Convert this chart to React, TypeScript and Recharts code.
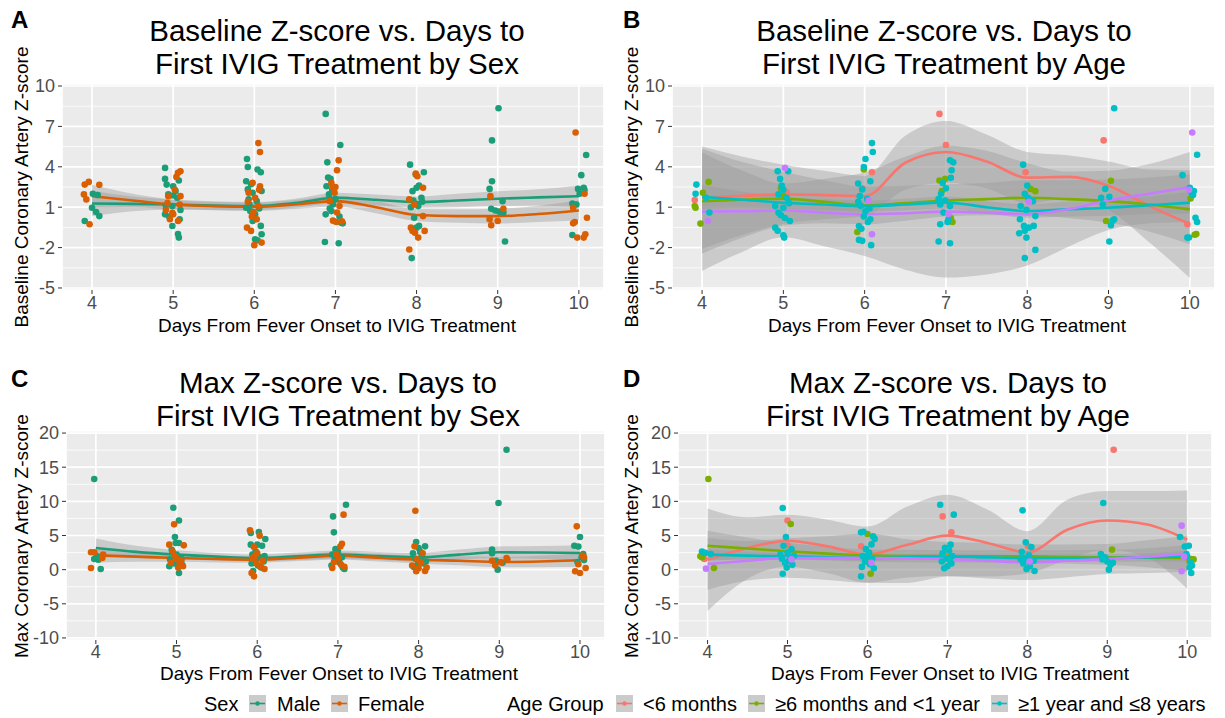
import React from "react";
import { Area, CartesianGrid, ComposedChart, Line, Scatter, XAxis, YAxis } from "recharts";

const FONT = '"Liberation Sans", Arial, Helvetica, sans-serif';

// axes
const dayTicks = [4, 5, 6, 7, 8, 9, 10];
const smoothX = [4, 4.5, 5, 5.5, 6, 6.5, 7, 7.5, 8, 8.5, 9, 9.5, 10];
const baselineTicks = [-5, -2, 1, 4, 7, 10];
const baselineMinor = [-3.5, -0.5, 2.5, 5.5, 8.5];
const maxTicks = [-10, -5, 0, 5, 10, 15, 20];
const maxMinor = [-7.5, -2.5, 2.5, 7.5, 12.5, 17.5];

const sexNames = ["Male", "Female"];
const sexColors = ["#1B9E77", "#D95F02"];
const ageNames = ["<6 months", "≥6 months and <1 year", "≥1 year and ≤8 years", ">8 years"];
const ageColors = ["#F8766D", "#7CAE00", "#00BFC4", "#C77CFF"];

type Pt = [number, number];

// ---- panel A: baseline z-score by sex (jittered points) ----
const aMale: Pt[] = [
  [4.01, 2.0], [4.0, 0.96], [4.05, 0.64], [4.09, 0.34], [3.91, -0.02], [4.07, 1.9],
  [4.9, 3.92], [4.9, 3.1], [4.92, 2.68], [5.0, 2.56], [5.07, 2.98], [4.94, 1.95], [5.0, 1.87], [5.05, 1.7],
  [4.91, 1.13], [4.99, 1.08], [5.09, 0.79], [4.9, 0.47], [4.95, 0.3], [4.99, -0.4], [5.08, 0.1], [5.06, -1.0],
  [5.07, -1.26], [5.03, 2.2],
  [5.91, 4.58], [5.92, 3.99], [6.04, 3.8], [6.08, 3.6], [5.9, 2.93], [5.96, 2.7], [5.92, 2.32], [5.98, 2.07],
  [6.09, 2.2], [5.93, 1.58], [6.03, 1.45], [5.9, 0.96], [5.95, 0.71], [6.01, 0.47], [5.98, -0.02], [6.08, -0.39],
  [6.09, -1.01], [6.01, -1.38], [6.04, -1.45], [5.94, 1.2], [6.06, 0.9],
  [6.88, 7.93], [7.06, 5.62], [6.9, 4.33], [6.91, 3.2], [6.94, 3.1], [6.89, 2.56], [6.96, 2.3], [6.92, 1.95],
  [7.0, 1.6], [6.97, 1.2], [6.95, 0.71], [6.88, 0.47], [7.05, 0.3], [7.07, -0.15], [7.09, -0.2], [6.87, -1.58],
  [7.04, -1.68], [6.93, 0.9],
  [7.92, 4.16], [8.09, 3.6], [7.99, 3.42], [8.0, 2.44], [8.03, 2.61], [7.95, 2.19], [8.06, 1.7], [7.96, 1.5],
  [8.02, 1.08], [7.93, 1.0], [7.97, 0.22], [8.03, -0.39], [8.0, -0.52], [7.94, -2.78], [8.07, 1.4],
  [9.01, 8.35], [8.93, 5.96], [8.93, 2.93], [8.9, 2.36], [8.92, 0.89], [8.97, 0.76], [9.02, 0.67], [9.06, 1.45],
  [9.07, 0.6], [9.09, -1.55],
  [10.09, 4.88], [10.03, 3.38], [9.99, 2.36], [10.06, 2.44], [10.07, 2.27], [10.01, 2.0], [9.92, 1.28],
  [9.97, 1.2], [9.92, -1.06],
];
const aFemale: Pt[] = [
  [3.91, 2.68], [3.96, 2.88], [4.09, 2.66], [3.9, 1.95], [3.93, 1.58], [3.97, -0.27],
  [5.06, 3.55], [5.09, 3.67], [5.04, 3.25], [4.94, 1.82], [5.09, 1.82], [5.02, 2.3], [4.91, 0.79], [4.99, 0.59],
  [5.0, 0.47], [4.96, 0.1], [5.06, -0.02], [5.08, 1.2], [4.93, 1.3],
  [6.05, 5.76], [6.07, 5.1], [6.07, 2.56], [5.98, 2.81], [5.93, 2.07], [6.01, 1.7], [6.05, 1.08], [5.92, 1.4],
  [5.99, 0.64], [5.91, -0.52], [5.96, -0.76], [6.0, -1.82], [6.09, -1.63], [6.03, 0.1], [5.97, 0.3], [6.06, 2.3],
  [7.04, 4.48], [7.02, 3.74], [6.97, 2.44], [6.99, 2.07], [7.0, 2.5], [6.93, 1.45], [7.05, 1.08], [7.02, 0.6],
  [6.97, 0.0], [7.01, -0.1], [7.08, -0.05], [6.95, 2.8],
  [7.99, 3.5], [8.01, 3.3], [8.08, 2.44], [7.91, 1.58], [7.97, 1.2], [8.08, 0.34], [7.93, -0.52], [7.95, -0.76],
  [7.98, -0.9], [8.02, -1.26], [8.1, -0.76], [7.91, -2.14],
  [8.91, 1.82], [9.07, 0.89], [8.9, 0.1], [8.92, -0.34], [9.0, -0.02],
  [9.96, 6.55], [10.07, 2.0], [10.1, 0.22], [9.93, -0.2], [9.98, -1.26], [10.08, -1.01], [10.06, -1.26],
  [9.93, 0.96], [9.95, -0.1],
];
const aMaleFit = [1.28, 1.25, 1.2, 1.12, 1.08, 1.3, 1.7, 1.55, 1.38, 1.5, 1.63, 1.73, 1.82];
const aMaleSe = [0.95, 0.55, 0.38, 0.32, 0.3, 0.33, 0.38, 0.4, 0.42, 0.5, 0.55, 0.6, 0.8];
const aFemaleFit = [1.82, 1.5, 1.2, 1.08, 1.03, 1.2, 1.45, 1.0, 0.42, 0.34, 0.34, 0.5, 0.76];
const aFemaleSe = [0.85, 0.5, 0.36, 0.3, 0.3, 0.33, 0.4, 0.45, 0.45, 0.5, 0.55, 0.6, 0.75];

// ---- panel B: baseline z-score by age group ----
const bAge1: Pt[] = [
  [3.91, 1.53], [6.09, 3.6], [5.97, 2.4], [6.92, 7.93], [7.0, 5.62], [7.98, 3.6], [8.94, 5.96], [9.97, -0.27],
  [5.04, 2.1],
];
const bAge2: Pt[] = [
  [3.91, 1.08], [3.92, 0.96], [4.08, 2.88], [3.98, -0.22], [4.01, 2.07], [5.0, 1.82], [4.97, 2.4], [5.99, 3.8],
  [5.91, -0.84], [6.92, 2.98], [6.99, 3.1], [7.08, -0.1], [8.04, 2.36], [8.1, 2.19], [9.03, 2.96], [8.97, -0.02],
  [10.01, 1.65], [10.08, -1.0], [10.06, -1.05], [6.95, 2.2], [7.06, 0.2],
];
const bAge3: Pt[] = [
  [3.93, 2.68], [3.92, 2.0], [4.05, 1.7], [4.09, 0.6],
  [4.93, 3.67], [5.06, 3.67], [4.96, 3.1], [4.98, 2.6], [5.0, 2.3], [4.94, 1.95], [5.04, 1.7], [4.9, 1.08],
  [5.0, 0.96], [4.94, 0.59], [5.08, -0.02], [5.02, 0.2], [4.9, -0.52], [4.93, -0.75], [5.0, -1.08], [5.01, -1.26],
  [5.07, 1.3], [4.97, 0.4],
  [6.09, 5.76], [6.1, 5.1], [6.01, 4.58], [5.99, 3.99], [5.92, 2.76], [5.97, 2.32], [6.07, 2.93], [5.94, 1.82],
  [6.03, 1.6], [5.95, 1.1], [6.01, 0.7], [6.07, 0.1], [5.93, -0.4], [5.96, -0.6], [5.93, -1.43], [5.97, -1.5],
  [6.08, -1.82], [6.04, -0.1], [5.92, 1.4], [6.06, 0.9], [5.99, 0.3],
  [7.05, 4.48], [7.09, 4.33], [7.07, 3.74], [7.06, 3.18], [6.96, 2.8], [7.0, 2.4], [6.94, 2.0], [6.91, 1.6],
  [6.93, 1.2], [7.05, 1.08], [6.97, 0.6], [7.03, 0.1], [6.93, -0.27], [7.02, -0.1], [7.05, -1.68], [6.91, -1.55],
  [6.99, 1.5],
  [7.95, 4.16], [8.0, 2.61], [7.97, 2.0], [8.01, 1.7], [8.07, 1.45], [7.92, 1.08], [7.99, 0.8], [8.1, 0.34],
  [7.91, 0.1], [7.96, -0.39], [8.02, -0.52], [8.08, -0.39], [7.97, -0.75], [7.9, -0.94], [7.99, -1.26],
  [8.1, -2.17], [7.97, -2.78],
  [9.07, 8.35], [8.96, 2.36], [8.91, 1.7], [9.01, 1.77], [9.07, 0.1], [9.05, 0.0], [9.03, -0.34], [9.01, -1.55],
  [8.93, 1.2],
  [10.09, 4.9], [9.91, 3.38], [10.0, 2.44], [10.05, 2.2], [10.03, 2.0], [10.02, 2.1], [10.07, 0.22],
  [10.09, -0.1], [9.97, -1.26], [9.99, -1.25], [10.04, 1.9],
];
const bAge4: Pt[] = [
  [4.07, -0.02], [5.02, 3.92], [6.09, -1.01], [10.03, 6.55], [9.99, 2.3], [6.05, 1.5], [8.02, 1.4], [7.03, 0.5],
];
const bFit1 = [1.7, 1.85, 1.95, 1.9, 1.82, 4.3, 5.1, 4.4, 3.2, 3.25, 2.6, 1.1, -0.25];
const bSe1 = [3.8, 2.9, 2.2, 1.8, 1.5, 2.0, 2.3, 2.0, 1.9, 1.6, 1.8, 2.7, 4.0];
const bFit2 = [1.45, 1.55, 1.63, 1.4, 1.13, 1.3, 1.5, 1.6, 1.7, 1.6, 1.45, 1.2, 0.84];
const bSe2 = [3.9, 2.8, 2.0, 1.6, 1.4, 1.3, 1.2, 1.2, 1.3, 1.4, 1.6, 2.0, 2.6];
const bFit3 = [1.77, 1.55, 1.33, 1.2, 1.08, 1.2, 1.35, 1.0, 0.72, 0.85, 0.96, 1.15, 1.33];
const bSe3 = [0.9, 0.6, 0.45, 0.4, 0.4, 0.42, 0.45, 0.45, 0.5, 0.55, 0.6, 0.65, 0.8];
const bFit4 = [0.67, 0.7, 0.76, 0.6, 0.47, 0.55, 0.67, 0.6, 0.47, 0.85, 1.5, 2.0, 2.5];
const bSe4 = [4.4, 3.0, 2.0, 2.5, 3.1, 4.2, 4.9, 4.6, 3.8, 2.8, 2.2, 2.2, 2.6];

// ---- panel C: max z-score by sex ----
const cMale: Pt[] = [
  [3.98, 13.27], [3.98, 1.56], [4.03, 1.46], [4.06, 0.1], [4.01, 2.0],
  [4.96, 9.07], [5.03, 7.2], [4.98, 4.78], [4.99, 3.9], [5.03, 3.9], [4.94, 2.9], [5.0, 2.2], [5.05, 1.8],
  [4.92, 1.5], [5.02, 1.2], [4.97, 0.9], [4.91, 0.49], [5.03, -0.49], [5.07, 0.7], [4.95, 2.5], [5.06, 1.6],
  [5.92, 5.37], [6.02, 5.5], [6.1, 4.49], [5.92, 3.66], [6.0, 3.66], [6.06, 3.5], [5.98, 2.68], [5.94, 2.2],
  [6.03, 1.8], [5.96, 1.4], [6.08, 1.2], [5.93, 0.9], [6.01, 0.6], [6.05, 0.3], [5.97, 1.1], [6.09, 2.0],
  [5.95, -0.2],
  [6.94, 7.8], [7.1, 9.5], [6.95, 5.46], [6.97, 3.0], [7.0, 2.6], [6.93, 2.2], [7.05, 1.8], [6.96, 1.4],
  [7.02, 1.0], [6.92, 0.6], [7.06, 0.3], [7.08, 0.1], [6.99, 2.9],
  [7.97, 4.05], [8.08, 3.41], [8.0, 3.17], [7.93, 2.4], [8.04, 2.0], [7.96, 1.6], [8.09, 1.2], [7.99, 0.8],
  [7.94, 0.4], [8.06, 0.9], [8.02, 2.6],
  [9.09, 17.56], [8.99, 9.76], [8.91, 2.93], [8.98, 0.0], [8.91, 2.4], [9.04, 1.0], [8.96, 1.3],
  [10.0, 4.78], [9.93, 3.5], [9.98, 3.4], [10.02, 1.8], [10.04, 2.3], [9.97, 1.1], [10.05, 1.4],
];
const cFemale: Pt[] = [
  [3.94, 2.54], [3.98, 2.54], [4.08, 1.7], [3.94, 0.24], [4.09, 2.2],
  [4.97, 6.63], [4.91, 3.66], [5.09, 3.56], [4.95, 2.7], [5.0, 1.6], [5.04, 1.1], [4.93, 1.0], [5.08, 0.49],
  [5.02, 0.3], [4.98, 2.0], [5.06, 1.4],
  [5.91, 5.76], [6.03, 4.98], [5.96, 3.3], [6.0, 2.4], [5.94, 1.6], [6.07, 1.3], [5.99, 0.9], [6.04, 0.4],
  [5.93, -0.49], [5.96, -0.98], [6.09, 0.1], [5.97, 1.9],
  [7.07, 8.05], [7.05, 3.8], [7.03, 3.4], [6.98, 2.3], [7.01, 1.7], [6.95, 1.1], [7.04, 0.7], [6.93, 0.24],
  [7.08, 0.4],
  [7.96, 8.63], [7.95, 3.41], [8.05, 2.4], [7.98, 1.5], [8.03, 1.0], [7.92, 0.6], [8.0, 0.2], [7.97, -0.24],
  [8.08, -0.2], [8.1, 0.3],
  [9.09, 1.7], [8.91, 1.3], [8.95, 0.6], [9.02, 1.1], [9.1, 1.5],
  [9.96, 6.34], [10.03, 2.05], [10.05, 1.8], [9.94, -0.24], [10.0, -0.49], [10.07, 0.24], [9.98, 0.8],
];
const cMaleFit = [3.17, 2.6, 2.2, 1.9, 1.7, 1.95, 2.2, 2.0, 1.8, 2.2, 2.54, 2.5, 2.44];
const cMaleSe = [1.4, 0.9, 0.65, 0.55, 0.5, 0.55, 0.6, 0.6, 0.65, 0.75, 0.85, 0.95, 1.15];
const cFemaleFit = [2.1, 1.9, 1.7, 1.55, 1.46, 1.75, 2.05, 1.75, 1.46, 1.3, 1.12, 1.2, 1.37];
const cFemaleSe = [1.1, 0.75, 0.55, 0.5, 0.45, 0.5, 0.55, 0.55, 0.55, 0.65, 0.75, 0.85, 1.0];

// ---- panel D: max z-score by age group ----
const dAge1: Pt[] = [
  [3.96, 1.56], [5.0, 7.2], [5.0, 3.56], [5.92, 3.41], [6.94, 7.8], [7.05, 5.46], [8.01, 3.41], [9.08, 17.56],
  [7.0, 2.4], [10.02, 1.5],
];
const dAge2: Pt[] = [
  [4.01, 13.27], [3.91, 1.95], [3.93, 1.8], [4.08, 0.24], [5.04, 6.68], [6.0, 5.22], [6.04, -0.59], [9.06, 2.93],
  [10.05, 1.56], [10.03, 1.2], [10.08, 1.5], [5.97, 1.2], [7.02, 1.8],
];
const dAge3: Pt[] = [
  [3.93, 2.65], [3.97, 2.45], [4.04, 2.3],
  [4.94, 9.02], [4.98, 4.78], [4.95, 3.5], [5.05, 3.0], [5.0, 2.5], [5.08, 2.0], [4.93, 1.6], [5.02, 1.3],
  [4.97, 1.0], [5.06, 0.7], [4.99, 0.3], [4.94, -0.59], [5.04, 1.8], [4.91, 2.2],
  [5.92, 5.46], [5.95, 5.56], [6.07, 4.9], [6.09, 4.5], [6.05, 3.7], [5.98, 3.0], [6.02, 2.5], [5.94, 2.0],
  [6.06, 1.6], [5.97, 1.2], [6.03, 0.8], [5.93, 0.4], [6.08, 0.2], [5.92, -0.98], [6.0, 1.9],
  [6.91, 9.5], [7.08, 8.05], [7.04, 3.66], [6.97, 3.2], [7.02, 2.8], [6.94, 2.4], [7.06, 2.0], [6.99, 1.6],
  [6.93, 1.2], [7.05, 0.9], [7.0, 0.5], [6.96, 0.2], [7.03, 1.4],
  [7.94, 8.68], [7.98, 4.0], [8.05, 3.3], [7.93, 2.6], [8.02, 2.1], [7.97, 1.7], [8.08, 1.3], [7.95, 0.9],
  [8.03, 0.5], [7.99, 0.1], [8.09, -0.2], [7.92, 1.5],
  [8.95, 9.76], [8.92, 2.3], [8.97, 1.8], [9.0, 1.2], [9.04, 0.7], [9.02, 0.0], [9.07, 1.0], [8.94, 1.5],
  [9.91, 4.78], [9.97, 3.4], [10.02, 3.5], [10.0, 1.9], [10.04, 1.0], [10.06, 0.6], [10.05, -0.49],
  [9.99, 2.3], [10.03, 0.3],
];
const dAge4: Pt[] = [
  [3.98, 0.15], [9.93, 6.44], [9.93, -0.24], [9.96, 1.9], [6.05, 1.0], [8.03, 1.2], [5.05, 1.5],
];
const dFit1 = [1.46, 3.17, 4.24, 3.41, 2.2, 3.66, 4.98, 3.9, 2.54, 5.85, 7.2, 6.6, 4.4];
const dSe1 = [7.5, 4.5, 3.8, 3.9, 4.1, 5.6, 6.0, 4.9, 3.1, 4.4, 4.3, 4.9, 7.2];
const dFit2 = [3.5, 3.1, 2.7, 2.35, 2.05, 2.0, 1.95, 1.95, 1.95, 1.85, 1.8, 1.75, 1.7];
const dSe2 = [2.2, 1.6, 1.2, 1.0, 0.9, 0.9, 0.9, 0.9, 0.9, 1.0, 1.1, 1.4, 1.9];
const dFit3 = [2.2, 2.05, 1.95, 1.8, 1.7, 1.8, 1.95, 1.8, 1.7, 1.7, 1.7, 1.8, 1.95];
const dSe3 = [0.8, 0.55, 0.45, 0.4, 0.4, 0.4, 0.4, 0.4, 0.45, 0.5, 0.55, 0.6, 0.8];
const dFit4 = [0.83, 1.3, 1.7, 1.7, 1.7, 1.65, 1.56, 1.3, 1.07, 1.3, 1.56, 1.9, 2.34];
const dSe4 = [3.8, 2.9, 2.9, 3.2, 3.6, 2.8, 2.5, 2.6, 2.6, 2.4, 2.2, 2.4, 2.6];

type Group = { color: string; points: Pt[]; fit: number[]; se: number[] };

const toXY = (pts: Pt[]) => pts.map(([x, y]) => ({ x, y }));

// one row per smoothing x, with fit and [low, high] band for each group
const buildRows = (groups: Group[]) =>
  smoothX.map((x, i) => {
    const row: Record<string, any> = { x };
    groups.forEach((g, k) => {
      row["fit" + k] = g.fit[i];
      row["band" + k] = [g.fit[i] - g.se[i], g.fit[i] + g.se[i]];
    });
    return row;
  });

const tickStyle = { fill: "#4D4D4D", fontSize: 18, fontFamily: FONT };

interface PanelProps {
  left: number;
  top: number;
  width: number;
  height: number;
  marginTop: number;
  marginRight: number;
  yWidth: number;
  xTickMargin: number;
  yDomain: [number, number];
  yTicks: number[];
  yMinor: number[];
  groups: Group[];
}

function Panel(p: PanelProps) {
  const rows = buildRows(p.groups);
  return (
    <div style={{ position: "absolute", left: p.left, top: p.top }}>
      <ComposedChart
        width={p.width}
        height={p.height}
        data={rows}
        margin={{ top: p.marginTop, right: p.marginRight, bottom: 0, left: 0 }}
      >
        <CartesianGrid fill="#EBEBEB" stroke="#FFFFFF" strokeWidth={0.8} vertical={false} horizontalValues={p.yMinor} />
        <CartesianGrid stroke="#FFFFFF" strokeWidth={1.7} fill="none" />
        <XAxis
          dataKey="x"
          type="number"
          domain={[3.63, 10.31]}
          ticks={dayTicks}
          interval={0}
          allowDataOverflow
          axisLine={false}
          tickLine={{ stroke: "#333333" }}
          tickSize={4}
          tickMargin={p.xTickMargin}
          height={50}
          tick={tickStyle}
        />
        <YAxis
          type="number"
          domain={p.yDomain}
          ticks={p.yTicks}
          interval={0}
          allowDataOverflow
          axisLine={false}
          tickLine={{ stroke: "#333333" }}
          tickSize={4}
          tickMargin={3}
          width={p.yWidth}
          tick={tickStyle}
        />
        {p.groups.map((g, k) => (
          <Scatter
            key={"s" + k}
            data={toXY(g.points)}
            dataKey="y"
            isAnimationActive={false}
            shape={(s: any) => <circle cx={s.cx} cy={s.cy} r={3.3} fill={g.color} />}
          />
        ))}
        {p.groups.flatMap((g, k) => [
          <Area
            key={"a" + k}
            dataKey={"band" + k}
            type="monotone"
            fill="#999999"
            fillOpacity={0.4}
            stroke="none"
            activeDot={false}
            isAnimationActive={false}
          />,
          <Line
            key={"l" + k}
            dataKey={"fit" + k}
            type="monotone"
            stroke={g.color}
            strokeWidth={2.6}
            dot={false}
            activeDot={false}
            isAnimationActive={false}
          />,
        ])}
      </ComposedChart>
    </div>
  );
}

const sexA: Group[] = [
  { color: sexColors[0], points: aMale, fit: aMaleFit, se: aMaleSe },
  { color: sexColors[1], points: aFemale, fit: aFemaleFit, se: aFemaleSe },
];
const ageB: Group[] = [
  { color: ageColors[0], points: bAge1, fit: bFit1, se: bSe1 },
  { color: ageColors[1], points: bAge2, fit: bFit2, se: bSe2 },
  { color: ageColors[2], points: bAge3, fit: bFit3, se: bSe3 },
  { color: ageColors[3], points: bAge4, fit: bFit4, se: bSe4 },
];
const sexC: Group[] = [
  { color: sexColors[0], points: cMale, fit: cMaleFit, se: cMaleSe },
  { color: sexColors[1], points: cFemale, fit: cFemaleFit, se: cFemaleSe },
];
const ageD: Group[] = [
  { color: ageColors[0], points: dAge1, fit: dFit1, se: dSe1 },
  { color: ageColors[1], points: dAge2, fit: dFit2, se: dSe2 },
  { color: ageColors[2], points: dAge3, fit: dFit3, se: dSe3 },
  { color: ageColors[3], points: dAge4, fit: dFit4, se: dSe4 },
];

const LegendKey = ({ x, color }: { x: number; color: string }) => (
  <g>
    <rect x={x} y={695} width={17} height={17} fill="#CBCBCB" />
    <line x1={x + 1} x2={x + 16} y1={703.5} y2={703.5} stroke={color} strokeWidth={1.6} />
    <circle cx={x + 8.5} cy={703.5} r={2.2} fill={color} />
  </g>
);

function Texts() {
  const title = { fontSize: 29.5, fontFamily: FONT, fill: "#000", textAnchor: "middle" as const };
  const axisTitle = { fontSize: 19, fontFamily: FONT, fill: "#000", textAnchor: "middle" as const };
  const letter = { fontSize: 24, fontFamily: FONT, fontWeight: 700, fill: "#000" };
  const leg = { fontSize: 20, fontFamily: FONT, fill: "#000" };
  return (
    <svg width={1225} height={718} style={{ position: "absolute", left: 0, top: 0, pointerEvents: "none" }}>
      <text x={11} y={28} {...letter}>A</text>
      <text x={623} y={28} {...letter}>B</text>
      <text x={11} y={387} {...letter}>C</text>
      <text x={623} y={387} {...letter}>D</text>

      <text x={337} y={41} {...title}>Baseline Z-score vs. Days to</text>
      <text x={337} y={74} {...title}>First IVIG Treatment by Sex</text>
      <text x={944} y={41} {...title}>Baseline Z-score vs. Days to</text>
      <text x={944} y={74} {...title}>First IVIG Treatment by Age</text>
      <text x={338} y={393} {...title}>Max Z-score vs. Days to</text>
      <text x={338} y={426} {...title}>First IVIG Treatment by Sex</text>
      <text x={948} y={393} {...title}>Max Z-score vs. Days to</text>
      <text x={948} y={426} {...title}>First IVIG Treatment by Age</text>

      <text x={337} y={332} {...axisTitle}>Days From Fever Onset to IVIG Treatment</text>
      <text x={947} y={332} {...axisTitle}>Days From Fever Onset to IVIG Treatment</text>
      <text x={339} y={680} {...axisTitle}>Days From Fever Onset to IVIG Treatment</text>
      <text x={950} y={680} {...axisTitle}>Days From Fever Onset to IVIG Treatment</text>

      <text x={28} y={187} transform="rotate(-90 28 187)" {...axisTitle}>Baseline Coronary Artery Z-score</text>
      <text x={638} y={187} transform="rotate(-90 638 187)" {...axisTitle}>Baseline Coronary Artery Z-score</text>
      <text x={28} y={536} transform="rotate(-90 28 536)" {...axisTitle}>Max Coronary Artery Z-score</text>
      <text x={638} y={536} transform="rotate(-90 638 536)" {...axisTitle}>Max Coronary Artery Z-score</text>

      <text x={204} y={711} {...leg}>Sex</text>
      <LegendKey x={249} color={sexColors[0]} />
      <text x={277} y={711} {...leg}>{sexNames[0]}</text>
      <LegendKey x={331} color={sexColors[1]} />
      <text x={358} y={711} {...leg}>{sexNames[1]}</text>

      <text x={507} y={711} {...leg}>Age Group</text>
      <LegendKey x={616} color={ageColors[0]} />
      <text x={643} y={711} {...leg}>{ageNames[0]}</text>
      <LegendKey x={748} color={ageColors[1]} />
      <text x={775} y={711} {...leg}>{ageNames[1]}</text>
      <LegendKey x={991} color={ageColors[2]} />
      <text x={1018} y={711} {...leg}>{ageNames[2]}</text>
    </svg>
  );
}

export default function App() {
  return (
    <div
      style={{
        position: "absolute",
        left: 0,
        top: 0,
        width: 1225,
        height: 718,
        background: "#FFFFFF",
        fontFamily: FONT,
        overflow: "hidden",
      }}
    >
      <Panel left={0} top={0} width={610} height={340} marginTop={84} marginRight={6} yWidth={62} xTickMargin={2}
        yDomain={[-5.15, 10.15]} yTicks={baselineTicks} yMinor={baselineMinor} groups={sexA} />
      <Panel left={610} top={0} width={615} height={340} marginTop={84} marginRight={10} yWidth={62} xTickMargin={2}
        yDomain={[-5.15, 10.15]} yTicks={baselineTicks} yMinor={baselineMinor} groups={ageB} />
      <Panel left={0} top={350} width={610} height={340} marginTop={81} marginRight={5} yWidth={66} xTickMargin={1}
        yDomain={[-10.3, 20.3]} yTicks={maxTicks} yMinor={maxMinor} groups={sexC} />
      <Panel left={610} top={350} width={615} height={340} marginTop={81} marginRight={13} yWidth={68} xTickMargin={1}
        yDomain={[-10.3, 20.3]} yTicks={maxTicks} yMinor={maxMinor} groups={ageD} />
      <Texts />
    </div>
  );
}
